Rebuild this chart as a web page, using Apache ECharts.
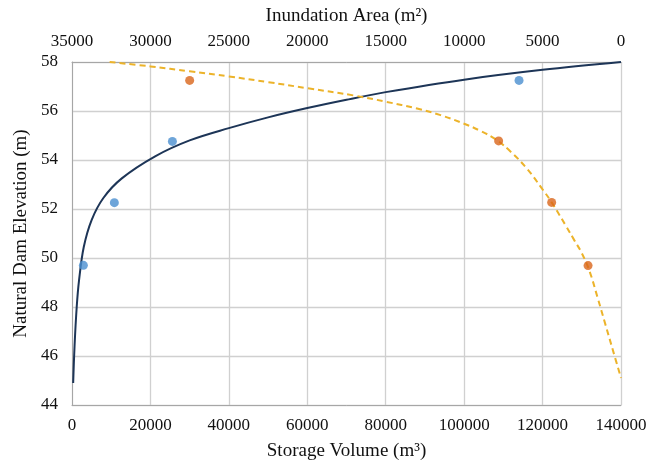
<!DOCTYPE html>
<html>
<head>
<meta charset="utf-8">
<script src="https://cdn.jsdelivr.net/npm/echarts@6/dist/echarts.min.js"></script>
<style>html,body{margin:0;padding:0;background:#fff}#c{width:665px;height:468px}</style>
</head>
<body>
<div id="c"></div>
<script>
// Storage volume observations (m3) vs natural dam elevation (m)
const volumePoints = [[2900, 49.70], [10800, 52.26], [25600, 54.76], [114000, 57.25]];
// Inundation area observations (m2) vs elevation (m)
const areaPoints = [[27500, 57.25], [7800, 54.78], [4420, 52.27], [2100, 49.69]];
// Trend line: storage volume
const volumeTrend = [[300, 44.9], [650, 46.4], [1200, 48.0], [1800, 49.1], [3000, 50.45], [5000, 51.55], [8000, 52.45], [12700, 53.25], [21200, 54.15], [30000, 54.8], [40000, 55.3], [50000, 55.74], [60000, 56.12], [70000, 56.46], [80000, 56.77], [100000, 57.28], [120000, 57.68], [140000, 58.0]];
// Trend line: inundation area
const areaTrend = [[32600, 58.0], [30000, 57.82], [27500, 57.62], [25000, 57.41], [22500, 57.18], [20000, 56.93], [17000, 56.63], [15000, 56.38], [13000, 56.1], [11500, 55.83], [10000, 55.48], [9000, 55.2], [8000, 54.85], [7000, 54.32], [6000, 53.65], [5000, 52.8], [4420, 52.27], [3500, 51.3], [3000, 50.75], [2500, 50.2], [2000, 49.45], [1500, 48.4], [1000, 47.3], [500, 46.2], [0, 45.1]];
const yTicks = [44, 46, 48, 50, 52, 54, 56, 58];

const font = '"Liberation Serif", "Times New Roman", serif';
const fmt = v => String(v);
const chart = echarts.init(document.getElementById('c'));
chart.setOption({
  animation: false,
  backgroundColor: '#fff',
  grid: {left: 72, right: 44, top: 62, bottom: 63, show: false},
  xAxis: [{
    type: 'value', position: 'bottom', min: 0, max: 140000, interval: 20000,
    name: 'Storage Volume (m³)', nameLocation: 'middle', nameGap: 37,
    nameTextStyle: {fontFamily: font, fontSize: 19, color: '#111'},
    axisLine: {show: true, lineStyle: {color: '#a6a6a6', width: 1}},
    axisTick: {show: false},
    axisLabel: {fontFamily: font, fontSize: 17, color: '#111', margin: 12, formatter: fmt},
    splitLine: {show: true, lineStyle: {color: '#d0d0d0', width: 1.3}}
  }, {
    type: 'value', position: 'top', min: 0, max: 35000, interval: 5000, inverse: true,
    name: 'Inundation Area (m²)', nameLocation: 'middle', nameGap: 36,
    nameTextStyle: {fontFamily: font, fontSize: 19, color: '#111'},
    axisLine: {show: true, lineStyle: {color: '#a6a6a6', width: 1}},
    axisTick: {show: false},
    axisLabel: {fontFamily: font, fontSize: 17, color: '#111', margin: 12, formatter: fmt},
    splitLine: {show: false}
  }],
  yAxis: {
    type: 'value', min: yTicks[0], max: yTicks[yTicks.length - 1], interval: 2,
    name: 'Natural Dam Elevation (m)', nameLocation: 'middle', nameGap: 41, nameRotate: 90,
    nameTextStyle: {fontFamily: font, fontSize: 19, color: '#111'},
    axisLine: {show: true, lineStyle: {color: '#a6a6a6', width: 1}},
    axisTick: {show: false},
    axisLabel: {fontFamily: font, fontSize: 17, color: '#111', margin: 14, formatter: fmt},
    splitLine: {show: true, lineStyle: {color: '#d0d0d0', width: 1.3}}
  },
  series: [{
    type: 'line', xAxisIndex: 0, data: volumeTrend, smooth: 0.35, showSymbol: false,
    lineStyle: {color: '#1d3557', width: 2}, z: 3
  }, {
    type: 'line', xAxisIndex: 1, data: areaTrend, smooth: 0.4, showSymbol: false,
    lineStyle: {color: '#ecb32a', width: 2, type: [6, 4]}, z: 3
  }, {
    type: 'scatter', xAxisIndex: 0, data: volumePoints, symbolSize: 9,
    itemStyle: {color: '#4a8fd0'}, z: 4
  }, {
    type: 'scatter', xAxisIndex: 1, data: areaPoints, symbolSize: 9,
    itemStyle: {color: '#d9651a'}, z: 4
  }]
});
</script>
</body>
</html>
